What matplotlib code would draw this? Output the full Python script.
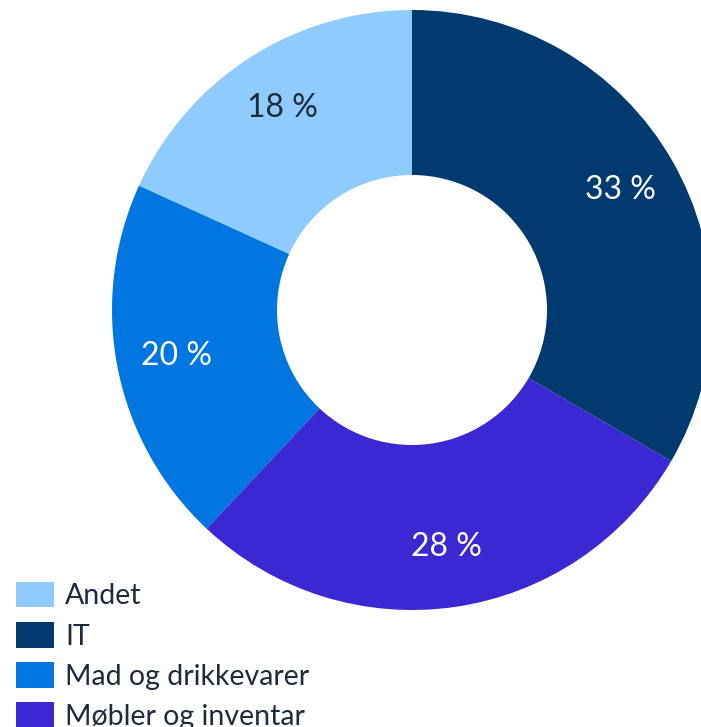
import matplotlib
matplotlib.use("Agg")
import matplotlib.pyplot as plt
from matplotlib.patches import Patch
import numpy as np

categories = ["Andet", "IT", "Mad og drikkevarer", "Møbler og inventar"]
values = [18.2, 33.4, 19.8, 28.6]
pct_labels = ["18 %", "33 %", "20 %", "28 %"]
colors = {"Andet": "#8FCBFF", "IT": "#003A6F",
          "Mad og drikkevarer": "#0076E0", "Møbler og inventar": "#3C28D2"}
label_colors = {"Andet": "#1E2B3A", "IT": "white",
                "Mad og drikkevarer": "white", "Møbler og inventar": "white"}

# draw order counter-clockwise from top
order = ["Andet", "Mad og drikkevarer", "Møbler og inventar", "IT"]
vals = [values[categories.index(c)] for c in order]
labs = [pct_labels[categories.index(c)] for c in order]

plt.rcParams['font.family'] = ['Lato', 'DejaVu Sans']

fig = plt.figure(figsize=(7.01, 7.27), dpi=100)
ax = fig.add_axes([112/701, 117/727, 600/701, 600/727])
wedges, _ = ax.pie(vals, startangle=90, counterclock=True, radius=1,
                   colors=[colors[c] for c in order],
                   wedgeprops=dict(width=0.55, linewidth=0))
total = sum(vals)
ang = 90
for c, v, l in zip(order, vals, labs):
    mid = ang + v / total * 360 / 2
    ang += v / total * 360
    r = 0.80
    ax.text(r * np.cos(np.radians(mid)), r * np.sin(np.radians(mid)), l,
            ha='center', va='center', fontsize=23, color=label_colors[c])
ax.set_xlim(-1, 1)
ax.set_ylim(-1, 1)
ax.set_aspect('equal')
ax.axis('off')

handles = [Patch(facecolor=colors[c], edgecolor='none') for c in categories]
leg = fig.legend(handles, categories, loc='upper left',
                 bbox_to_anchor=(16/701, 1 - 582/727), frameon=False,
                 fontsize=20.5, handlelength=1.33, handleheight=1.0,
                 labelspacing=0.44, handletextpad=0.39, borderpad=0,
                 borderaxespad=0, labelcolor='#1E2B3A')
fig.savefig("out.png", dpi=100)
